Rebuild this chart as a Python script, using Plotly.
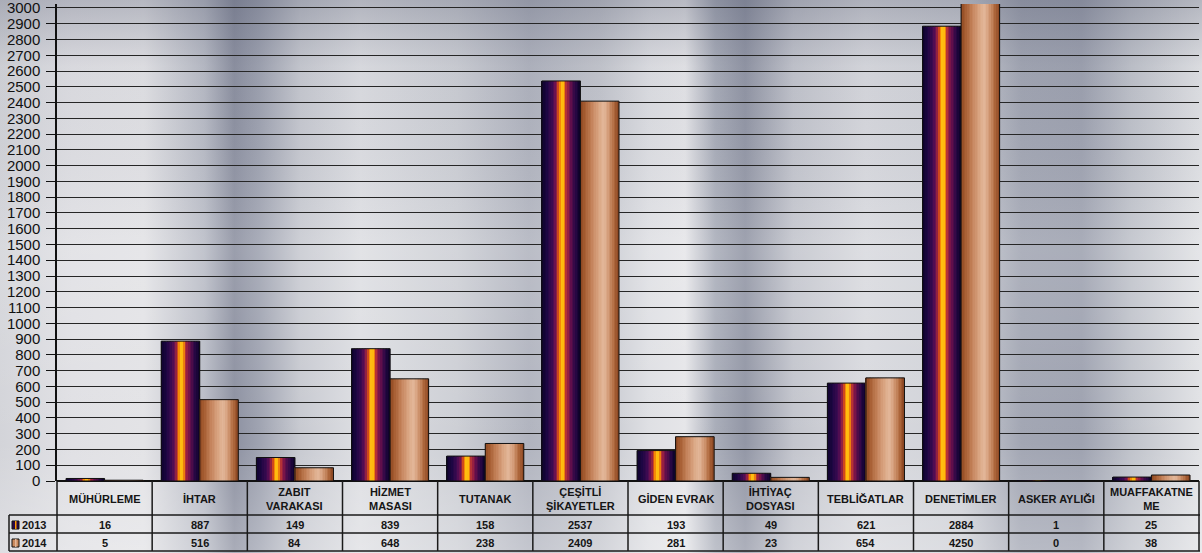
import base64
import plotly.graph_objects as go

# ---------------- data ----------------
categories = ["MÜHÜRLEME", "İHTAR", "ZABIT VARAKASI", "HİZMET MASASI", "TUTANAK",
              "ÇEŞİTLİ ŞİKAYETLER", "GİDEN EVRAK", "İHTİYAÇ DOSYASI", "TEBLİĞATLAR",
              "DENETİMLER", "ASKER AYLIĞI", "MUAFFAKATNEME"]
header_labels = ["MÜHÜRLEME", "İHTAR", "ZABIT<br>VARAKASI", "HİZMET<br>MASASI", "TUTANAK",
                 "ÇEŞİTLİ<br>ŞİKAYETLER", "GİDEN EVRAK", "İHTİYAÇ<br>DOSYASI", "TEBLİĞATLAR",
                 "DENETİMLER", "ASKER AYLIĞI", "MUAFFAKATNE<br>ME"]
values_2013 = [16, 887, 149, 839, 158, 2537, 193, 49, 621, 2884, 1, 25]
values_2014 = [5, 516, 84, 648, 238, 2409, 281, 23, 654, 4250, 0, 38]
series_names = ["2013", "2014"]
y_ticks = list(range(0, 3001, 100))

# ---------------- styling ----------------
W, H = 1202, 553
PX_L, PX_R = 57, 1199          # plot area left/right in px
PX_TOP, PX_ZERO = 4, 481       # plot top / zero line in px
ROW1, ROW2, ROW3 = 515, 533, 551
FONT = "Liberation Sans, Arial, sans-serif"

grad_2013 = [(0.00, "#0b0228"), (0.14, "#1c0642"), (0.28, "#3e0a52"), (0.38, "#7a1350"),
             (0.44, "#d24a1c"), (0.49, "#ff9a00"), (0.54, "#ffd21a"), (0.59, "#ff9a00"),
             (0.65, "#b02a3a"), (0.75, "#6a0f4c"), (0.88, "#2a0846"), (1.00, "#0b0228")]
grad_2014 = [(0.00, "#8a4520"), (0.12, "#a45c30"), (0.30, "#c4825a"), (0.50, "#dba886"),
             (0.62, "#e3b79a"), (0.75, "#d19874"), (0.88, "#b06a3e"), (1.00, "#8a4520")]


def hex2rgb(h):
    h = h.lstrip("#")
    return tuple(int(h[i:i + 2], 16) for i in (0, 2, 4))


def interp(stops, t):
    for (t0, c0), (t1, c1) in zip(stops[:-1], stops[1:]):
        if t0 <= t <= t1:
            f = 0 if t1 == t0 else (t - t0) / (t1 - t0)
            a, b = hex2rgb(c0), hex2rgb(c1)
            return "rgb(%d,%d,%d)" % tuple(round(a[k] + (b[k] - a[k]) * f) for k in range(3))
    return stops[-1][1]


fig = go.Figure()

GROUP = 0.81
BAR_W = GROUP / 2
N = 24
for s_idx, (vals, stops) in enumerate([(values_2013, grad_2013), (values_2014, grad_2014)]):
    start = -GROUP / 2 + s_idx * BAR_W
    for i in range(N):
        fig.add_trace(go.Bar(
            x=categories, y=vals, width=BAR_W / N + 0.002,
            offset=start + i * BAR_W / N,
            marker=dict(color=interp(stops, (i + 0.5) / N), line=dict(width=0)),
            showlegend=False, hoverinfo="skip"))
    fig.add_trace(go.Bar(
        x=categories, y=vals, width=BAR_W, offset=start, name=series_names[s_idx],
        marker=dict(color="rgba(0,0,0,0)", line=dict(color="#111111", width=1)),
        showlegend=False))

# ---------------- background image (decorative) ----------------
h_stops = [(0.00, "#d3d4d9"), (0.06, "#e0e0e4"), (0.12, "#e3e3e6"), (0.17, "#b9bcc6"),
           (0.195, "#8d91a1"), (0.215, "#9ea2b0"), (0.25, "#c8cad1"), (0.30, "#dedfe3"),
           (0.38, "#cdcfd5"), (0.44, "#b1b4bf"), (0.50, "#c5c7ce"), (0.54, "#dfe0e4"),
           (0.57, "#e6e6e9"), (0.595, "#a9adb9"), (0.62, "#9296a5"), (0.66, "#c3c5cd"),
           (0.72, "#d9dadf"), (0.80, "#cfd1d7"), (0.85, "#a2a6b3"), (0.90, "#9ea2b0"),
           (0.94, "#bfc2ca"), (1.00, "#e2e3e6")]
stops_svg = "".join("<stop offset='%.3f' stop-color='%s'/>" % s for s in h_stops)
svg = ("<svg xmlns='http://www.w3.org/2000/svg' width='%d' height='%d'>"
       "<defs><linearGradient id='h' x1='0' y1='0' x2='1' y2='0'>%s</linearGradient>"
       "<linearGradient id='v' x1='0' y1='0' x2='0' y2='1'>"
       "<stop offset='0' stop-color='#4a5068' stop-opacity='0.30'/>"
       "<stop offset='0.12' stop-color='#4a5068' stop-opacity='0.05'/>"
       "<stop offset='0.45' stop-color='#ffffff' stop-opacity='0.12'/>"
       "<stop offset='0.8' stop-color='#ffffff' stop-opacity='0.0'/>"
       "<stop offset='1' stop-color='#ffffff' stop-opacity='0.25'/>"
       "</linearGradient></defs>"
       "<rect width='%d' height='%d' fill='url(#h)'/>"
       "<rect width='%d' height='%d' fill='url(#v)'/></svg>") % (W, H, stops_svg, W, H, W, H)
bg_src = "data:image/svg+xml;base64," + base64.b64encode(svg.encode()).decode()


def px_x(p):
    return p / W


def px_y(p):
    return 1 - p / H


# ---------------- data table (shapes + annotations) ----------------
LINE = dict(color="#1a1a1a", width=1.5)
shapes = []
cat_w = (PX_R - PX_L) / len(categories)
for yy in (ROW1, ROW2, ROW3):
    shapes.append(dict(type="line", xref="paper", yref="paper", x0=px_x(9), x1=px_x(PX_R + 1),
                       y0=px_y(yy), y1=px_y(yy), line=LINE))
shapes.append(dict(type="line", xref="paper", yref="paper", x0=px_x(9), x1=px_x(9),
                   y0=px_y(ROW1), y1=px_y(ROW3), line=LINE))
for k in range(len(categories) + 1):
    xx = PX_L + k * cat_w
    shapes.append(dict(type="line", xref="paper", yref="paper", x0=px_x(xx), x1=px_x(xx),
                       y0=px_y(PX_ZERO), y1=px_y(ROW3), line=LINE))

annotations = []
TXT = dict(family=FONT, size=11, color="#151515")
for k, lab in enumerate(header_labels):
    cx = px_x(PX_L + (k + 0.5) * cat_w)
    annotations.append(dict(xref="paper", yref="paper", x=cx, y=px_y((PX_ZERO + ROW1) / 2 + 1),
                            text="<b>%s</b>" % lab, showarrow=False, font=TXT,
                            xanchor="center", yanchor="middle"))
    for vals, (ya, yb) in ((values_2013, (ROW1, ROW2)), (values_2014, (ROW2, ROW3))):
        annotations.append(dict(xref="paper", yref="paper", x=cx, y=px_y((ya + yb) / 2 + 1),
                                text="<b>%d</b>" % vals[k], showarrow=False, font=TXT,
                                xanchor="center", yanchor="middle"))

for name, (ya, yb), col in ((series_names[0], (ROW1, ROW2), "#2a0846"),
                             (series_names[1], (ROW2, ROW3), "#c98a5e")):
    ym = (ya + yb) / 2 + 1
    shapes.append(dict(type="rect", xref="paper", yref="paper", x0=px_x(12), x1=px_x(19),
                       y0=px_y(ym + 4), y1=px_y(ym - 4), fillcolor=col,
                       line=dict(color="#111111", width=1)))
    shapes.append(dict(type="rect", xref="paper", yref="paper", x0=px_x(15), x1=px_x(16.5),
                       y0=px_y(ym + 4), y1=px_y(ym - 4),
                       fillcolor="#ff9a00" if name == "2013" else "#e3b79a", line=dict(width=0)))
    annotations.append(dict(xref="paper", yref="paper", x=px_x(20), y=px_y(ym), text="<b>%s</b>" % name,
                            showarrow=False, font=TXT, xanchor="left", yanchor="middle"))

fig.update_layout(
    width=W, height=H, autosize=False,
    margin=dict(l=0, r=0, t=0, b=0, pad=0, autoexpand=False),
    paper_bgcolor="#d6d7dc", plot_bgcolor="rgba(0,0,0,0)",
    barmode="overlay", showlegend=False,
    images=[dict(source=bg_src, xref="paper", yref="paper", x=0, y=1, sizex=1, sizey=1,
                 xanchor="left", yanchor="top", sizing="stretch", layer="below")],
    shapes=shapes, annotations=annotations,
    xaxis=dict(domain=[px_x(PX_L), px_x(PX_R)], range=[-0.5, len(categories) - 0.5],
               showticklabels=False, ticks="", showgrid=False, zeroline=False,
               showline=False, fixedrange=True),
    yaxis=dict(domain=[px_y(PX_ZERO), px_y(PX_TOP)], range=[0, 3025],
               tickvals=y_ticks, ticktext=[str(t) for t in y_ticks],
               tickfont=dict(family=FONT, size=15, color="#111111"),
               ticks="outside", ticklen=9, tickcolor="#111111", tickwidth=1,
               ticklabelstandoff=3, ticklabeloverflow="allow",
               showgrid=True, gridcolor="#262626", gridwidth=1.3,
               zeroline=True, zerolinecolor="#111111", zerolinewidth=1.5,
               showline=True, linecolor="#111111", linewidth=1.5, fixedrange=True),
    font=dict(family=FONT),
)

fig.write_html("out.html", config={"displayModeBar": False},
               post_script="document.body.style.margin='0';document.body.style.overflow='hidden';")
